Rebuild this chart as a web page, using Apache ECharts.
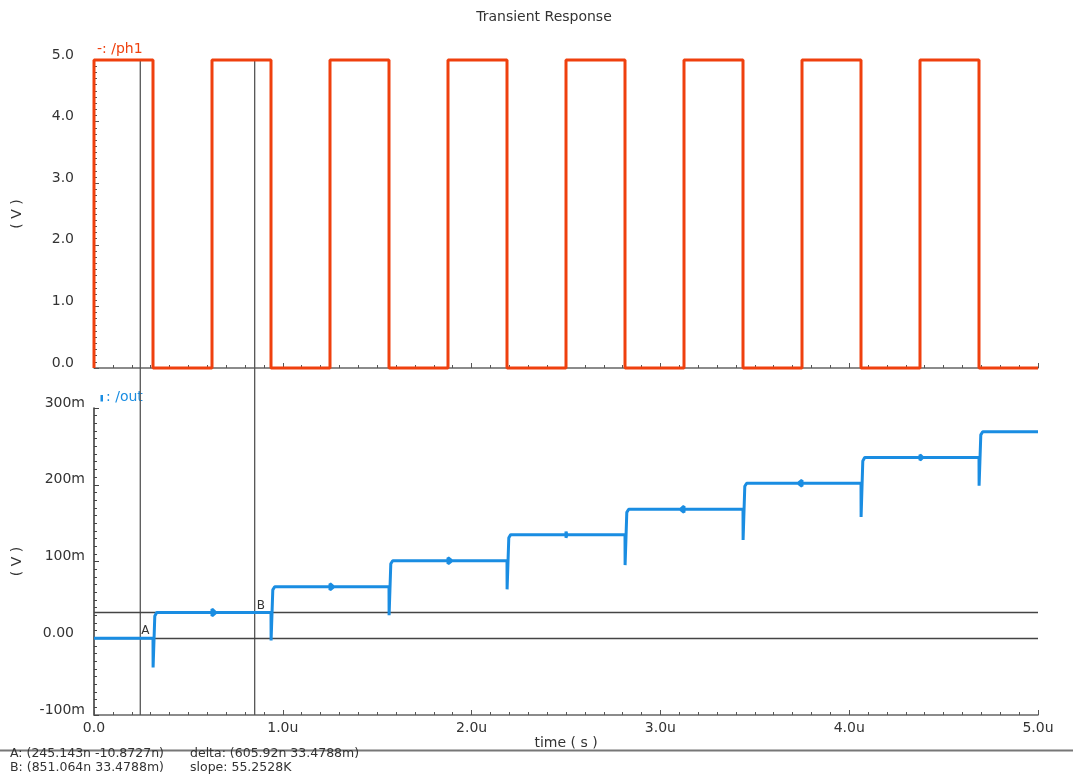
<!DOCTYPE html>
<html>
<head>
<meta charset="utf-8">
<script src="https://cdn.jsdelivr.net/npm/echarts@6/dist/echarts.min.js"></script>
<style>
html,body{margin:0;padding:0;background:#fff;}
#chart{width:1073px;height:776px;}
</style>
</head>
<body>
<div id="chart"></div>
<script>
// ---- data (time in microseconds) ----
// ph1 square wave (V)
var phTime = [0, 0, 0.3125, 0.3125, 0.625, 0.625, 0.9375, 0.9375, 1.25, 1.25, 1.5625, 1.5625,
  1.875, 1.875, 2.1875, 2.1875, 2.5, 2.5, 2.8125, 2.8125, 3.125, 3.125, 3.4375, 3.4375,
  3.75, 3.75, 4.0625, 4.0625, 4.375, 4.375, 4.6875, 4.6875, 5.0];
var phVolt = [0, 5, 5, 0, 0, 5, 5, 0, 0, 5, 5, 0,
  0, 5, 5, 0, 0, 5, 5, 0, 0, 5, 5, 0,
  0, 5, 5, 0, 0, 5, 5, 0, 0];

// out staircase (mV)
var outTime = [0, 0.3125, 0.313, 0.322, 0.332,
  0.625, 0.625, 0.645, 0.625, 0.625,
  0.9375, 0.938, 0.947, 0.957,
  1.25, 1.25, 1.27, 1.25, 1.25,
  1.5625, 1.563, 1.572, 1.582,
  1.875, 1.875, 1.895, 1.875, 1.875,
  2.1875, 2.188, 2.197, 2.207,
  2.5, 2.5, 2.505, 2.5, 2.5,
  2.8125, 2.813, 2.822, 2.832,
  3.125, 3.125, 3.105, 3.125, 3.125,
  3.4375, 3.438, 3.447, 3.457,
  3.75, 3.75, 3.73, 3.75, 3.75,
  4.0625, 4.063, 4.072, 4.082,
  4.375, 4.375, 4.39, 4.375, 4.375,
  4.6875, 4.688, 4.697, 4.707, 5.0];
var outMilliVolt = [0, 0, -38, 29, 33.5,
  33.5, 38, 33.5, 29, 33.5,
  33.5, -3, 63, 67,
  67, 71, 67, 63, 67,
  67, 30, 97, 101,
  101, 105, 101, 97, 101,
  101, 63.7, 131, 135,
  135, 139, 135, 131, 135,
  135, 95.3, 164, 168,
  168, 172, 168, 164, 168,
  168, 128, 198, 202,
  202, 206, 202, 198, 202,
  202, 158, 231, 235.5,
  235.5, 239, 235.5, 232, 235.5,
  235.5, 198.6, 265, 269, 269];

// cursors
var cursorA = [0.245143, -0.0000108727];
var cursorB = [0.851064, 33.4788];

// tick labels
var phTickLabels = {'0': '0.0', '1': '1.0', '2': '2.0', '3': '3.0', '4': '4.0', '5': '5.0'};
var outTickLabels = {'-100': '-100m', '0': '{z|0.00}', '100': '100m', '200': '200m', '300': '300m'};
var timeTickLabels = {'0': '0.0', '1': '1.0u', '2': '2.0u', '3': '3.0u', '4': '4.0u', '5': '5.0u'};

var infoLines = [
  ['A: (245.143n -10.8727n)', 'delta: (605.92n 33.4788m)'],
  ['B: (851.064n 33.4788m)', 'slope: 55.2528K']
];

// ---- chart ----
var RED = '#ef400e';
var BLUE = '#1a8de2';
var FONT = 'DejaVu Sans';
var TXT = '#333';

function zip(a, b) { var r = []; for (var i = 0; i < a.length; i++) r.push([a[i], b[i]]); return r; }

var chart = echarts.init(document.getElementById('chart'), null, {renderer: 'canvas'});

var commonX = function (gi, showLabels) {
  return {
    type: 'value', gridIndex: gi, min: 0, max: 5, interval: 1,
    axisLine: {show: true, onZero: false, lineStyle: {color: '#666', width: 1.5}},
    axisTick: {show: true, inside: true, length: 5, lineStyle: {color: '#555'}},
    minorTick: {show: true, splitNumber: 10, length: 3, lineStyle: {color: '#555'}},
    splitLine: {show: false},
    axisLabel: {
      show: showLabels, margin: 6, fontFamily: FONT, fontSize: 14, color: TXT,
      showMinLabel: true, showMaxLabel: true,
      formatter: function (v) { return timeTickLabels[String(v)] || ''; }
    },
    name: showLabels ? 'time ( s )' : '', nameLocation: 'middle', nameGap: 18,
    nameTextStyle: {fontFamily: FONT, fontSize: 14, color: TXT}
  };
};

chart.setOption({
  animation: false,
  backgroundColor: '#fff',
  grid: [
    {left: 94, top: 60, width: 944, height: 308, outerBoundsMode: 'none', containLabel: false},
    {left: 94, top: 408, width: 944, height: 307, outerBoundsMode: 'none', containLabel: false}
  ],
  xAxis: [commonX(0, false), commonX(1, true)],
  yAxis: [
    {
      type: 'value', gridIndex: 0, min: 0, max: 5, interval: 1,
      axisLine: {show: true, lineStyle: {color: '#444'}},
      axisTick: {show: true, inside: true, length: 5, lineStyle: {color: '#555'}},
      minorTick: {show: true, splitNumber: 10, length: 3, lineStyle: {color: '#555'}},
      splitLine: {show: false},
      axisLabel: {
        margin: 20, fontFamily: FONT, fontSize: 14, color: TXT,
        verticalAlign: 'bottom', lineHeight: 10,
        showMinLabel: true, showMaxLabel: true,
        formatter: function (v) { return phTickLabels[String(v)] || ''; }
      },
      name: '( V )', nameLocation: 'middle', nameGap: 70, nameRotate: 90,
      nameTextStyle: {fontFamily: FONT, fontSize: 14, color: TXT}
    },
    {
      type: 'value', gridIndex: 1, min: -100, max: 300, interval: 100,
      axisLine: {show: true, lineStyle: {color: '#333', width: 1.5}},
      axisTick: {show: true, inside: true, length: 5, lineStyle: {color: '#444'}},
      minorTick: {show: true, splitNumber: 10, length: 3, lineStyle: {color: '#444'}},
      splitLine: {show: false},
      axisLabel: {
        margin: 9, fontFamily: FONT, fontSize: 14, color: TXT,
        verticalAlign: 'bottom', lineHeight: 10,
        showMinLabel: true, showMaxLabel: true,
        rich: {z: {fontFamily: FONT, fontSize: 14, color: TXT, lineHeight: 10, padding: [0, 11, 0, 0]}},
        formatter: function (v) { return outTickLabels[String(v)] || ''; }
      },
      name: '( V )', nameLocation: 'middle', nameGap: 70, nameRotate: 90,
      nameTextStyle: {fontFamily: FONT, fontSize: 14, color: TXT}
    }
  ],
  series: [
    {
      type: 'line', xAxisIndex: 0, yAxisIndex: 0, data: zip(phTime, phVolt),
      showSymbol: false, symbol: 'none', clip: false, z: 5,
      lineStyle: {color: RED, width: 3}
    },
    {
      type: 'line', xAxisIndex: 1, yAxisIndex: 1, data: zip(outTime, outMilliVolt),
      showSymbol: false, symbol: 'none', clip: false, z: 5,
      lineStyle: {color: BLUE, width: 3},
      markLine: {
        silent: true, symbol: 'none', label: {show: false},
        lineStyle: {color: '#444', width: 1.3, type: 'solid'},
        data: [{yAxis: cursorA[1]}, {yAxis: cursorB[1]}]
      }
    }
  ]
});

// cursors spanning both plots + annotations
var pA0 = chart.convertToPixel({gridIndex: 0}, [cursorA[0], 5]);
var pA1 = chart.convertToPixel({gridIndex: 1}, [cursorA[0], -100]);
var pB0 = chart.convertToPixel({gridIndex: 0}, [cursorB[0], 5]);
var pB1 = chart.convertToPixel({gridIndex: 1}, [cursorB[0], -100]);
var pAh = chart.convertToPixel({gridIndex: 1}, cursorA);
var pBh = chart.convertToPixel({gridIndex: 1}, cursorB);

var g = [];
g.push({type: 'line', z: 3, silent: true, shape: {x1: pA0[0], y1: pA0[1], x2: pA1[0], y2: pA1[1]}, style: {stroke: '#555', lineWidth: 1.3}});
g.push({type: 'line', z: 3, silent: true, shape: {x1: pB0[0], y1: pB0[1], x2: pB1[0], y2: pB1[1]}, style: {stroke: '#555', lineWidth: 1.3}});
g.push({type: 'text', z: 10, x: pAh[0] + 1, y: pAh[1] - 1, style: {text: 'A', fill: '#333', font: '12px "DejaVu Sans"', textVerticalAlign: 'bottom'}});
g.push({type: 'text', z: 10, x: pBh[0] + 2, y: pBh[1] - 1, style: {text: 'B', fill: '#333', font: '12px "DejaVu Sans"', textVerticalAlign: 'bottom'}});
// title
g.push({type: 'text', x: 544, y: 17, style: {text: 'Transient Response', fill: '#333', font: '14px "DejaVu Sans"', textAlign: 'center', textVerticalAlign: 'middle'}});
// legends
g.push({type: 'text', x: 97, y: 49, style: {text: '-: /ph1', fill: RED, font: '14px "DejaVu Sans"', textVerticalAlign: 'middle'}});
g.push({type: 'rect', shape: {x: 100.5, y: 395, width: 2.5, height: 6.5}, style: {fill: BLUE}});
g.push({type: 'text', x: 106, y: 397, style: {text: ': /out', fill: BLUE, font: '14px "DejaVu Sans"', textVerticalAlign: 'middle'}});
// separator and info
g.push({type: 'line', shape: {x1: 0, y1: 750.5, x2: 1073, y2: 750.5}, style: {stroke: '#777', lineWidth: 2}});
for (var i = 0; i < infoLines.length; i++) {
  g.push({type: 'text', x: 10, y: 753.5 + i * 14.3, style: {text: infoLines[i][0], fill: '#333', font: '12.5px "DejaVu Sans"', textVerticalAlign: 'middle'}});
  g.push({type: 'text', x: 190, y: 753.5 + i * 14.3, style: {text: infoLines[i][1], fill: '#333', font: '12.5px "DejaVu Sans"', textVerticalAlign: 'middle'}});
}
chart.setOption({graphic: g});
</script>
</body>
</html>
